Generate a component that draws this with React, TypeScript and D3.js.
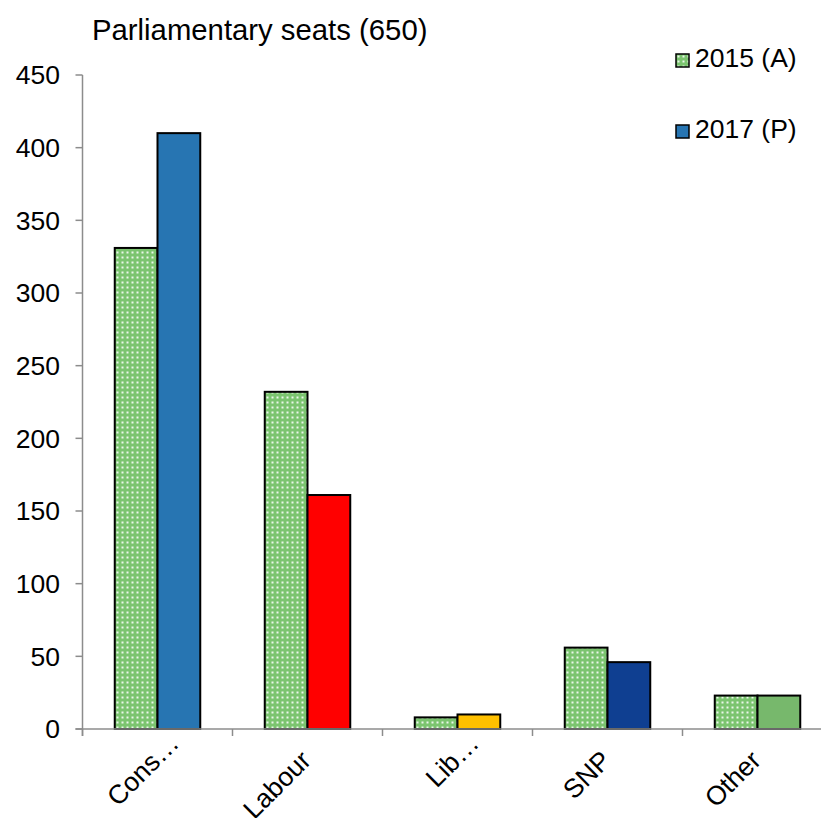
import React from "react";
import * as d3 from "d3";

// Seats won by party
const parties = ["Cons…", "Labour", "Lib…", "SNP", "Other"];
const seats2015 = [331, 232, 8, 56, 23];
const seats2017 = [410, 161, 10, 46, 23];
const colors2017 = ["#2775B2", "#FF0000", "#FFC000", "#0F3F91", "#77B86C"];
const yTicks = [0, 50, 100, 150, 200, 250, 300, 350, 400, 450];
const seriesNames = ["2015 (A)", "2017 (P)"];

const W = 821;
const H = 818;
const left = 82.5;
const catW = 150;
const top = 75;
const bottom = 729;
const font = "Arial, 'Liberation Sans', sans-serif";

export default function App() {
  const x = d3
    .scaleBand<string>()
    .domain(parties)
    .range([left, left + catW * parties.length])
    .paddingInner(0.43)
    .paddingOuter(0.215);
  const y = d3.scaleLinear().domain([0, 450]).range([bottom, top]);
  const bw = x.bandwidth() / 2;
  const axisColor = "#8C8C8C";

  return (
    <svg
      width={W}
      height={H}
      style={{ position: "absolute", left: 0, top: 0, background: "#fff" }}
      fontFamily={font}
    >
      <defs>
        <pattern id="dots" width={5} height={5} patternUnits="userSpaceOnUse">
          <rect width={5} height={5} fill="#7BC46F" />
          <rect x={1.5} y={1.5} width={2} height={2} fill="#fff" opacity={0.85} />
        </pattern>
      </defs>

      <text x={92} y={40} fontSize={29.3} fill="#000">
        Parliamentary seats (650)
      </text>

      {/* y axis */}
      <line x1={left} x2={left} y1={top} y2={bottom + 7} stroke={axisColor} strokeWidth={1.5} />
      {yTicks.map((t) => (
        <g key={t}>
          <line x1={left - 7} x2={left} y1={y(t)} y2={y(t)} stroke={axisColor} strokeWidth={1.5} />
          <text x={60} y={y(t)} dy="0.35em" textAnchor="end" fontSize={26.5} fill="#000">
            {t}
          </text>
        </g>
      ))}

      {/* bars */}
      {parties.map((p, i) => {
        const x0 = x(p) as number;
        return (
          <g key={p}>
            <rect
              x={x0}
              y={y(seats2015[i])}
              width={bw}
              height={y(0) - y(seats2015[i])}
              fill="url(#dots)"
              stroke="#000"
              strokeWidth={2}
            />
            <rect
              x={x0 + bw}
              y={y(seats2017[i])}
              width={bw}
              height={y(0) - y(seats2017[i])}
              fill={colors2017[i]}
              stroke="#000"
              strokeWidth={2}
            />
          </g>
        );
      })}

      {/* x axis */}
      <line x1={left - 7} x2={left + catW * parties.length} y1={bottom} y2={bottom} stroke={axisColor} strokeWidth={1.5} />
      {d3.range(parties.length + 1).map((k) => (
        <line
          key={k}
          x1={left + k * catW}
          x2={left + k * catW}
          y1={bottom}
          y2={bottom + 7}
          stroke={axisColor}
          strokeWidth={1.5}
        />
      ))}
      {parties.map((p) => {
        const cx = (x(p) as number) + x.bandwidth() / 2;
        // shortened names sit further along their slanted line
        const truncated = p.endsWith("…");
        const ax = truncated ? cx + 23 : cx + 5;
        const ay = truncated ? bottom + 16 : bottom + 33;
        return (
          <text
            key={p}
            transform={`translate(${ax},${ay}) rotate(-45)`}
            textAnchor="end"
            fontSize={26.5}
            fill="#000"
          >
            {p}
          </text>
        );
      })}

      {/* legend */}
      {seriesNames.map((s, i) => (
        <g key={s} transform={`translate(676,${54 + i * 71})`}>
          <rect
            width={13}
            height={13}
            fill={i === 0 ? "url(#dots)" : colors2017[0]}
            stroke="#000"
            strokeWidth={1.5}
          />
          <text x={19} y={13} fontSize={26.5} fill="#000">
            {s}
          </text>
        </g>
      ))}
    </svg>
  );
}
